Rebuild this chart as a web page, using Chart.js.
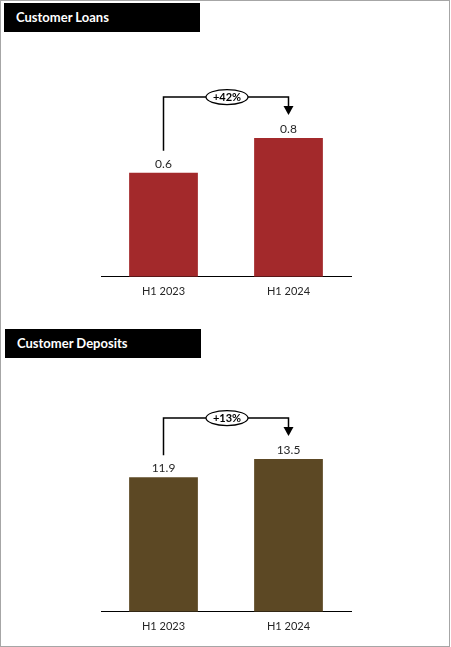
<!DOCTYPE html>
<html>
<head>
<meta charset="utf-8">
<script src="https://cdn.jsdelivr.net/npm/chart.js@4/dist/chart.umd.min.js"></script>
<style>
    body { margin: 0; background: #fff; font-family: Lato, sans-serif; }
    .page { position: absolute; left: 0; top: 0; width: 450px; height: 647px; box-sizing: border-box; border: 1px solid #a6a6a6; }
    .title { position: absolute; left: 4px; width: 196px; height: 29px; background: #000; color: #fff; font: bold 13px Lato, sans-serif; line-height: 29px; padding-left: 12px; box-sizing: border-box; }
    canvas { position: absolute; left: 0; }
</style>
</head>
<body>
<div class="page"></div>
<div class="title" style="top:3px">Customer Loans</div>
<div class="title" style="top:329px; left:5px">Customer Deposits</div>
<canvas id="loansChart" width="451" height="258" style="top:40px"></canvas>
<canvas id="depositsChart" width="451" height="263" style="top:370px"></canvas>
<script>
    const periods = ['H1 2023', 'H1 2024'];
    const loans = [0.6, 0.8];
    const deposits = [11.9, 13.5];
    const loansGrowth = '+42%';
    const depositsGrowth = '+13%';

    // value labels on top of the bars + the growth bracket with arrow
    const bracketPlugin = {
        id: 'bracket',
        afterDatasetsDraw(chart, args, opts) {
            const ctx = chart.ctx;
            const bars = chart.getDatasetMeta(0).data;
            const values = chart.data.datasets[0].data;

            ctx.save();
            ctx.fillStyle = '#262626';
            ctx.font = '12px Lato, sans-serif';
            ctx.textAlign = 'center';
            ctx.textBaseline = 'middle';
            bars.forEach((b, i) => ctx.fillText(values[i].toFixed(1), b.x, b.y - 9));

            const x0 = bars[0].x, x1 = bars[1].x;
            const yTop = Math.min(bars[0].y, bars[1].y) - 41;
            const tip = bars[1].y - 23;
            ctx.strokeStyle = '#000';
            ctx.lineWidth = 1.5;
            ctx.beginPath();
            ctx.moveTo(x0, bars[0].y - 22);
            ctx.lineTo(x0, yTop);
            ctx.lineTo(x1, yTop);
            ctx.lineTo(x1, tip - 8);
            ctx.stroke();
            ctx.fillStyle = '#000';
            ctx.beginPath();
            ctx.moveTo(x1 - 5, tip - 9);
            ctx.lineTo(x1 + 5, tip - 9);
            ctx.lineTo(x1, tip);
            ctx.closePath();
            ctx.fill();

            const cx = (x0 + x1) / 2 + 1;
            ctx.beginPath();
            ctx.ellipse(cx, yTop, 21, 7.5, 0, 0, Math.PI * 2);
            ctx.fillStyle = '#fff';
            ctx.fill();
            ctx.lineWidth = 1.2;
            ctx.stroke();
            ctx.fillStyle = '#000';
            ctx.font = 'bold 11px Lato, sans-serif';
            ctx.fillText(opts.label, cx, yTop + 0.5);
            ctx.restore();
        }
    };

    function makeChart(id, values, color, yMax, growth) {
        return new Chart(document.getElementById(id), {
            type: 'bar',
            data: {
                labels: periods,
                datasets: [{
                    data: values,
                    backgroundColor: color,
                    barPercentage: 0.55,
                    categoryPercentage: 1
                }]
            },
            options: {
                responsive: false,
                animation: false,
                devicePixelRatio: 1,
                layout: { padding: { left: 101, right: 100, top: 20, bottom: 0 } },
                plugins: {
                    legend: { display: false },
                    tooltip: { enabled: false },
                    bracket: { label: growth }
                },
                scales: {
                    y: { display: false, min: 0, max: yMax },
                    x: {
                        grid: { display: false },
                        border: { color: '#000', width: 1 },
                        ticks: { color: '#262626', font: { family: 'Lato', size: 11 }, padding: 0 }
                    }
                }
            },
            plugins: [bracketPlugin]
        });
    }

    makeChart('loansChart', loans, '#a3292b', 1.25, loansGrowth);
    makeChart('depositsChart', deposits, '#5c4824', 19.6, depositsGrowth);
</script>
</body>
</html>
